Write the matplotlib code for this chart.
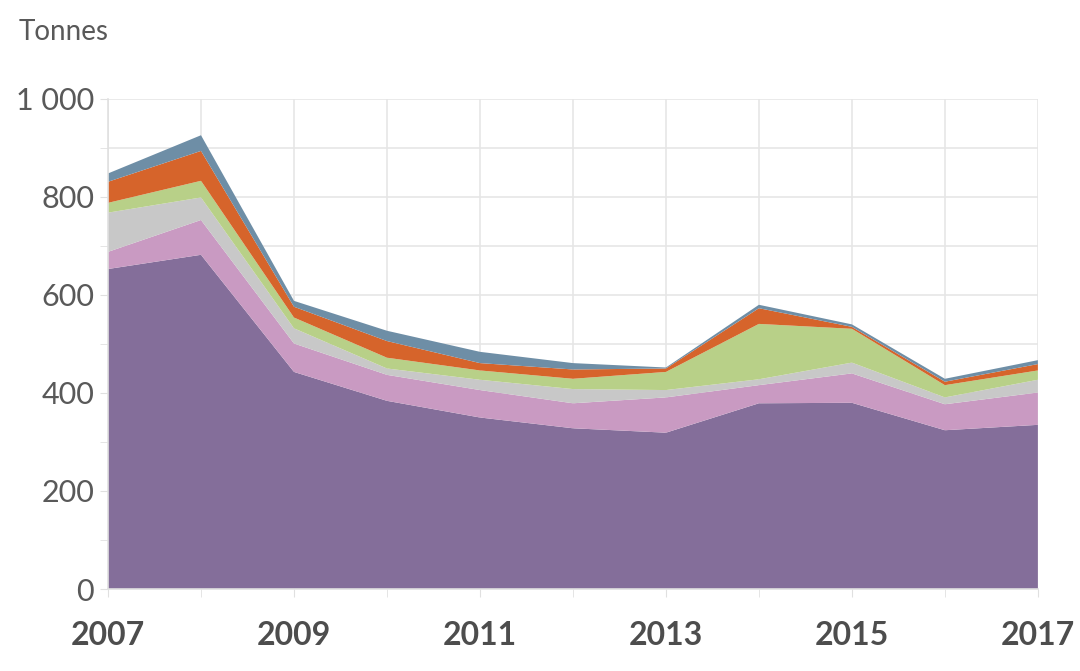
import matplotlib
matplotlib.use("Agg")
import matplotlib.pyplot as plt
from matplotlib.ticker import MultipleLocator, FuncFormatter

plt.rcParams['font.family'] = ['Lato', 'DejaVu Sans']

years = [2007, 2008, 2009, 2010, 2011, 2012, 2013, 2014, 2015, 2016, 2017]

# stacked series, bottom to top (tonnes)
purple = [653, 682, 443, 384, 350, 328, 319, 379, 380, 324, 335]
pink = [35, 71, 58, 53, 56, 51, 72, 37, 60, 53, 66]
gray = [80, 46, 31, 13, 21, 29, 15, 12, 22, 14, 26]
green = [20, 34, 22, 22, 19, 21, 37, 113, 69, 25, 19]
orange = [43, 61, 22, 34, 15, 19, 7, 32, 4, 7, 13]
blue = [17, 32, 12, 21, 23, 13, 2, 7, 5, 6, 8]

colors = ['#846e9a', '#c99ac2', '#c8c8c8', '#b8d088', '#d6642b', '#6e8ea6']

fig = plt.figure(figsize=(10.8, 6.71), dpi=100)
ax = fig.add_axes([0.1, 0.1222, 0.861, 0.7303])

ax.stackplot(years, purple, pink, gray, green, orange, blue,
             colors=colors, linewidth=0, zorder=2)

ax.set_xlim(2007, 2017)
ax.set_ylim(0, 1000)

ax.yaxis.set_major_locator(MultipleLocator(200))
ax.yaxis.set_minor_locator(MultipleLocator(100))
ax.yaxis.set_major_formatter(FuncFormatter(lambda v, p: '{:,}'.format(int(v)).replace(',', ' ')))
ax.set_xticks(years[::2])
ax.set_xticks(years, minor=True)

ax.grid(True, which='both', color='#e6e6e6', linewidth=1.2, zorder=0)
ax.set_axisbelow(True)

for s in ['top', 'right']:
    ax.spines[s].set_visible(False)
for s in ['left', 'bottom']:
    ax.spines[s].set_color('#e0e0e0')
    ax.spines[s].set_linewidth(1.2)

ax.tick_params(axis='y', which='both', length=6, color='#e0e0e0', labelsize=22,
               labelcolor='#595959', pad=4)
ax.tick_params(axis='x', which='both', length=6, color='#e0e0e0', labelsize=23,
               labelcolor='#4d4d4d', pad=17)
for lab in ax.get_xticklabels():
    lab.set_fontweight('bold')

fig.text(0.017, 0.952, 'Tonnes', fontsize=20, color='#595959', va='center', ha='left')

fig.savefig('out.png', dpi=100)
